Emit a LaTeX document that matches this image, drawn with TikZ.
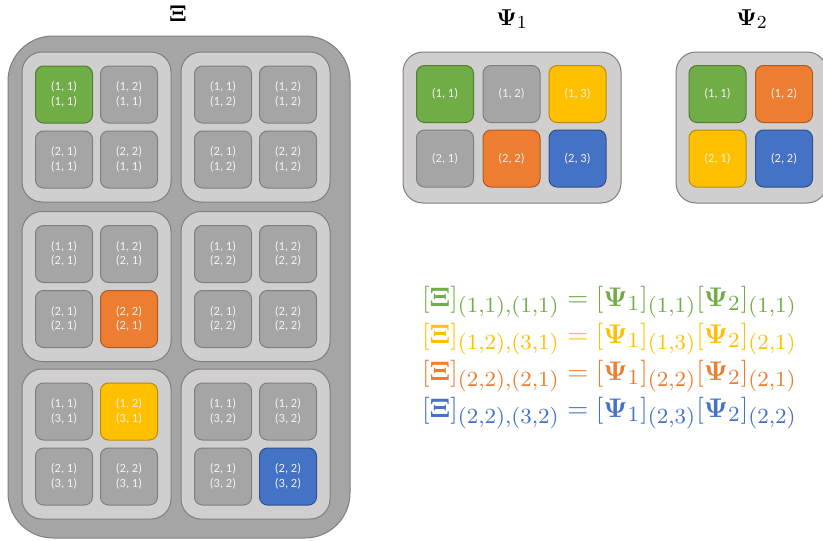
\documentclass[tikz,border=0pt]{standalone}
\usepackage{amsmath}
\usepackage{graphicx}
\usepackage[no-math]{fontspec}
\setmainfont{Carlito}
\DeclareMathSizes{10}{10}{8}{6}
\definecolor{cgray}{HTML}{A5A5A5}
\definecolor{cgrayd}{HTML}{7F7F7F}
\definecolor{clight}{HTML}{D0CECE}
\definecolor{cgreen}{HTML}{70AD47}
\definecolor{cgreend}{HTML}{507E32}
\definecolor{corange}{HTML}{ED7D31}
\definecolor{coranged}{HTML}{AE5A21}
\definecolor{cyellow}{HTML}{FFC000}
\definecolor{cyellowd}{HTML}{BC8C00}
\definecolor{cblue}{HTML}{4472C4}
\definecolor{cblued}{HTML}{2F528F}
\definecolor{ctext}{HTML}{F2F2F2}
\newcommand{\eqn}[1]{\scalebox{2.7}{\fontsize{10}{12}\selectfont$#1$}}
\newcommand{\ttlm}[1]{\scalebox{2.3}{\fontsize{10}{12}\selectfont$#1$}}
\tikzset{
  outerbox/.style={draw=cgrayd, fill=cgray, line width=1pt, rounded corners=45pt},
  blk/.style={draw=cgrayd, fill=clight, line width=1pt, rounded corners=20pt},
  sq/.style={draw=cgrayd, fill=cgray, line width=1pt, rounded corners=8pt,
    minimum width=57pt, minimum height=57pt, inner sep=0pt, text=ctext,
    font=\fontsize{12.5}{14.5}\selectfont, align=center},
  sqgreen/.style={sq, draw=cgreend, fill=cgreen},
  sqorange/.style={sq, draw=coranged, fill=corange},
  sqyellow/.style={sq, draw=cyellowd, fill=cyellow},
  sqblue/.style={sq, draw=cblued, fill=cblue},
  ttl/.style={anchor=base, inner sep=0pt},
  eq/.style={anchor=base west, inner sep=0pt},
}
\begin{document}
\begin{tikzpicture}[x=1pt, y=-1pt]
\useasboundingbox (0,0) rectangle (823,541);
% Xi
\node[ttl] (tXi) at (178,21) {\ttlm{\mathbf{\Xi}}};
\draw[outerbox] (8,36) rectangle (350,538);
\foreach \r/\cy in {1/127, 2/286.5, 3/444} {
  \foreach \c/\cx in {1/96.5, 2/255.5} {
    \draw[blk] (\cx-74.5,\cy-75) rectangle (\cx+74.5,\cy+75);
    \foreach \i/\dy in {1/-32.5, 2/32.5} {
      \foreach \j/\dx in {1/-32.5, 2/32.5} {
        \def\st{sq}
        \ifnum\r\c\i\j=1111 \def\st{sqgreen}\fi
        \ifnum\r\c\i\j=2122 \def\st{sqorange}\fi
        \ifnum\r\c\i\j=3112 \def\st{sqyellow}\fi
        \ifnum\r\c\i\j=3222 \def\st{sqblue}\fi
        \node[\st] (x-\r-\c-\i-\j) at (\cx+\dx,\cy+\dy) {(\i, \j)\\(\r, \c)};
      }
    }
  }
}
% Psi1
\node[ttl] (tP1) at (512,25) {\ttlm{\mathbf{\Psi}_1}};
\draw[blk] (403,52) rectangle (621,203);
\node[sqgreen] (p1-1-1) at (445,94) {(1, 1)};
\node[sq] (p1-1-2) at (511.5,94) {(1, 2)};
\node[sqyellow] (p1-1-3) at (577.5,94) {(1, 3)};
\node[sq] (p1-2-1) at (445,158.5) {(2, 1)};
\node[sqorange] (p1-2-2) at (511.5,158.5) {(2, 2)};
\node[sqblue] (p1-2-3) at (577.5,158.5) {(2, 3)};
% Psi2
\node[ttl] (tP2) at (752,25) {\ttlm{\mathbf{\Psi}_2}};
\draw[blk] (676,52) rectangle (827,203);
\node[sqgreen] (p2-1-1) at (717.5,94) {(1, 1)};
\node[sqorange] (p2-1-2) at (784,94) {(1, 2)};
\node[sqyellow] (p2-2-1) at (717.5,158.5) {(2, 1)};
\node[sqblue] (p2-2-2) at (784,158.5) {(2, 2)};
% equations
\node[eq, text=cgreen] (e1) at (422,306) {\eqn{[\mathbf{\Xi}]_{(1,1),(1,1)} = [\mathbf{\Psi}_1]_{(1,1)}[\mathbf{\Psi}_2]_{(1,1)}}};
\node[eq, text=cyellow] (e2) at (422,343) {\eqn{[\mathbf{\Xi}]_{(1,2),(3,1)} = [\mathbf{\Psi}_1]_{(1,3)}[\mathbf{\Psi}_2]_{(2,1)}}};
\node[eq, text=corange] (e3) at (422,380) {\eqn{[\mathbf{\Xi}]_{(2,2),(2,1)} = [\mathbf{\Psi}_1]_{(2,2)}[\mathbf{\Psi}_2]_{(2,1)}}};
\node[eq, text=cblue] (e4) at (422,417) {\eqn{[\mathbf{\Xi}]_{(2,2),(3,2)} = [\mathbf{\Psi}_1]_{(2,3)}[\mathbf{\Psi}_2]_{(2,2)}}};
\end{tikzpicture}
\end{document}
